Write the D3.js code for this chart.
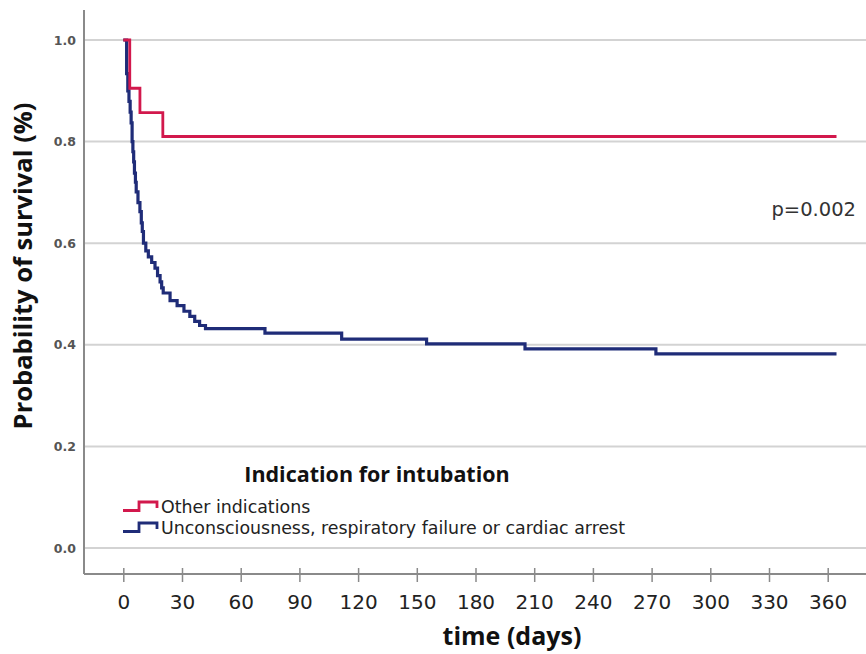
<!DOCTYPE html>
<html>
<head>
<meta charset="utf-8">
<script src="https://cdn.jsdelivr.net/npm/d3@7"></script>
<style>
  html, body { margin: 0; padding: 0; background: #fff; }
  svg { display: block; }
</style>
</head>
<body>
<svg id="chart" width="866" height="654"></svg>
<script>
// ---- Data ----
const xTicks = [0, 30, 60, 90, 120, 150, 180, 210, 240, 270, 300, 330, 360];
const yTicks = [0.0, 0.2, 0.4, 0.6, 0.8, 1.0];

const groups = ["Other indications", "Unconsciousness, respiratory failure or cardiac arrest"];
const legendTitle = "Indication for intubation";
const pValueText = "p=0.002";

// Other indications (step drop times in days, survival after drop)
const otherTimes = [0, 3.3, 8.5, 20.2, 364.5];
const otherSurv  = [1.0, 0.905, 0.857, 0.81, 0.81];

// Unconsciousness, respiratory failure or cardiac arrest
const uncTimes = [0, 1.7, 2.3, 2.9, 3.5, 4.0, 4.5, 4.9, 5.3, 5.7, 6.2, 6.6, 7.5, 8.5, 9.2, 9.7,
                  10.3, 11.5, 12.8, 14.5, 16.2, 17.5, 18.8, 19.6, 20.4, 23.9, 27.5, 31, 34, 36.5,
                  39, 42, 72.4, 111.6, 155, 205.3, 272.2, 364.5];
const uncSurv  = [1.0, 0.934, 0.90, 0.879, 0.858, 0.837, 0.80, 0.78, 0.76, 0.738, 0.72, 0.701, 0.68, 0.662, 0.64, 0.623,
                  0.600, 0.585, 0.573, 0.562, 0.551, 0.536, 0.524, 0.512, 0.502, 0.487, 0.477, 0.466, 0.456, 0.446,
                  0.438, 0.432, 0.423, 0.411, 0.402, 0.392, 0.382, 0.382];

const colors = ["#d2184c", "#1f2c78"];

// ---- Layout ----
const svg = d3.select("#chart");
const x = d3.scaleLinear().domain([0, 360]).range([123.3, 827.7]);
const y = d3.scaleLinear().domain([0, 1]).range([548, 40]);
const frameLeft = 84, frameRight = 866, frameTop = 10, frameBottom = 574;

// gridlines
svg.append("g").selectAll("line").data(yTicks).join("line")
  .attr("x1", frameLeft).attr("x2", frameRight)
  .attr("y1", d => y(d)).attr("y2", d => y(d))
  .attr("stroke", "#d3d3d3").attr("stroke-width", 2);

// y axis line
svg.append("line").attr("x1", frameLeft).attr("x2", frameLeft)
  .attr("y1", frameTop).attr("y2", frameBottom)
  .attr("stroke", "#8a8a8a").attr("stroke-width", 2);

// x axis (line + ticks)
const xAxis = d3.axisBottom(x).tickValues(xTicks).tickSize(0).tickPadding(0);
const gx = svg.append("g").attr("transform", `translate(0,${frameBottom})`).call(xAxis);
gx.select(".domain").remove();
gx.selectAll(".tick text").remove();
svg.append("line").attr("x1", frameLeft).attr("x2", frameRight)
  .attr("y1", frameBottom).attr("y2", frameBottom)
  .attr("stroke", "#8a8a8a").attr("stroke-width", 2);
gx.selectAll(".tick").append("line")
  .attr("y1", -6).attr("y2", 8)
  .attr("stroke", "#8a8a8a").attr("stroke-width", 1.5);
gx.selectAll(".tick").append("text")
  .attr("y", 35)
  .attr("text-anchor", "middle")
  .attr("fill", "#222")
  .style("font-family", "'DejaVu Sans', sans-serif")
  .style("font-size", "20px")
  .text(d => d);

// y tick labels
const yAxis = d3.axisLeft(y).tickValues(yTicks).tickSize(0).tickPadding(8).tickFormat(d3.format(".1f"));
const gy = svg.append("g").attr("transform", `translate(${frameLeft},0)`).call(yAxis);
gy.select(".domain").remove();
gy.selectAll(".tick text")
  .attr("x", -8)
  .attr("fill", "#555")
  .style("font-family", "'DejaVu Sans', sans-serif")
  .style("font-size", "12.5px")
  .style("font-weight", "bold");

// curves
const line = d3.line().x(d => x(d[0])).y(d => y(d[1])).curve(d3.curveStepAfter);
const series = [
  d3.zip(otherTimes, otherSurv),
  d3.zip(uncTimes, uncSurv)
];
[1, 0].forEach(i => {
  svg.append("path").datum(series[i])
    .attr("d", line)
    .attr("fill", "none")
    .attr("stroke", colors[i])
    .attr("stroke-width", i === 1 ? 3.2 : 2.8)
    .attr("stroke-linejoin", "miter");
});

// p-value
svg.append("text").attr("x", 856).attr("y", 216).attr("text-anchor", "end")
  .attr("fill", "#333")
  .style("font-family", "'DejaVu Sans', sans-serif").style("font-size", "19.5px")
  .text(pValueText);

// axis titles
svg.append("text")
  .attr("transform", "translate(23,266) rotate(-90)")
  .attr("text-anchor", "middle").attr("dy", "0.35em")
  .attr("fill", "#111")
  .style("font-family", "'Open Sans', sans-serif").style("font-size", "25.5px").style("font-weight", "bold")
  .text("Probability of survival (%)");

svg.append("text")
  .attr("x", 512).attr("y", 645).attr("text-anchor", "middle")
  .attr("fill", "#111")
  .style("font-family", "'Open Sans', sans-serif").style("font-size", "25px").style("font-weight", "bold")
  .text("time (days)");

// legend
svg.append("text")
  .attr("x", 377).attr("y", 482).attr("text-anchor", "middle")
  .attr("fill", "#111")
  .style("font-family", "'Open Sans', sans-serif").style("font-size", "21.5px").style("font-weight", "bold")
  .text(legendTitle);

const leg = svg.append("g").selectAll("g").data(groups).join("g")
  .attr("transform", (d, i) => `translate(0,${i * 21})`);
leg.append("path")
  .attr("d", "M123,510.5 H139 V502 H157 V508")
  .attr("fill", "none")
  .attr("stroke", (d, i) => colors[i])
  .attr("stroke-width", 2.8);
leg.append("text")
  .attr("x", 161).attr("y", 513)
  .attr("fill", "#222")
  .style("font-family", "'DejaVu Sans', sans-serif").style("font-size", "17.4px")
  .text(d => d);
</script>
</body>
</html>
